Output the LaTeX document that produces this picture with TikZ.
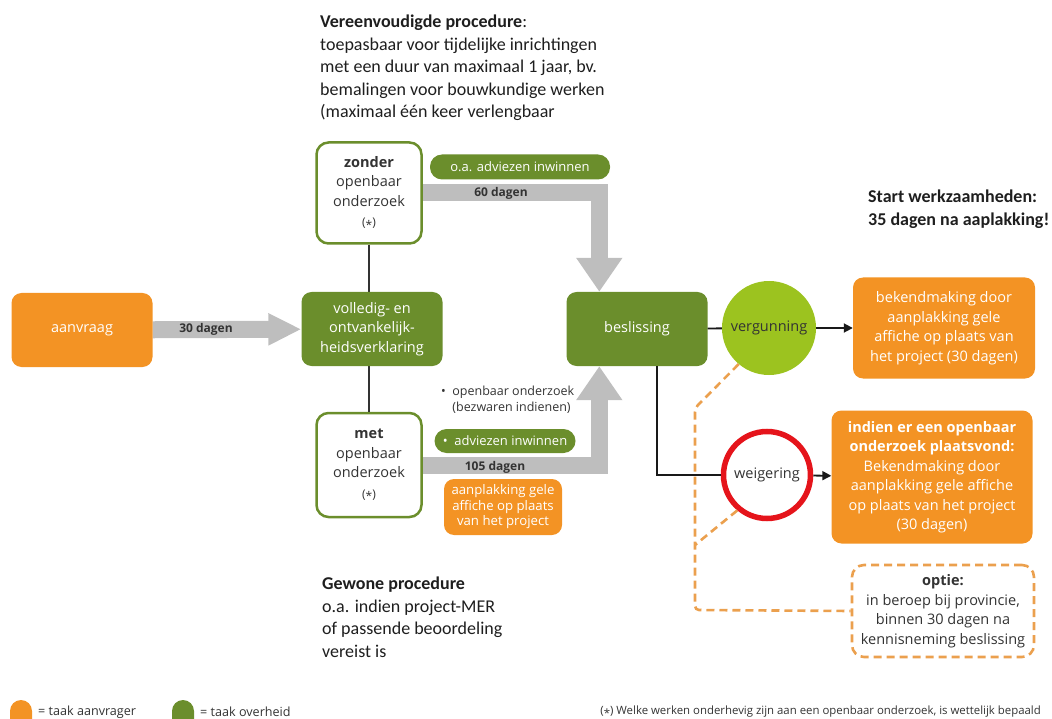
\documentclass[tikz,border=0pt]{standalone}
\usepackage{fontspec}
\setmainfont{Open Sans}
\newfontfamily\notefont{Carlito}
\usetikzlibrary{arrows.meta}

\definecolor{aorange}{HTML}{F39324}
\definecolor{ogreen}{HTML}{6B8E2C}
\definecolor{lightgreen}{HTML}{9CC31F}
\definecolor{flowgray}{HTML}{BEBEBE}
\definecolor{stopred}{HTML}{E5141B}
\definecolor{dashorange}{HTML}{EBA04E}
\definecolor{darktext}{HTML}{333333}
\definecolor{notetext}{HTML}{1E1E1E}

\begin{document}
\begin{tikzpicture}[x=1pt,y=-1pt,
    font=\fontsize{14.5}{19.5}\selectfont,
    flow/.style={draw=flowgray,line width=17pt,-{Triangle[width=44pt,length=34pt]}},
    link/.style={draw=black!90,line width=1.8pt},
    stem/.style={draw=darktext,line width=1.2pt},
    optlink/.style={draw=dashorange,line width=2.6pt,dash pattern=on 8pt off 5pt,rounded corners=4pt},
    note/.style={anchor=north west,align=left,inner sep=0pt,text=notetext,
                 font=\notefont\fontsize{18}{22.5}\selectfont},
    daglabel/.style={text=darktext,font=\fontsize{12}{14}\selectfont\bfseries,inner sep=1pt},
    legend/.style={anchor=west,text=darktext,inner sep=0pt,font=\fontsize{12.6}{14}\selectfont}]
\useasboundingbox (0,0) rectangle (1052,719);

% gray time arrows
\node[minimum width=141pt,minimum height=74pt] (aanvraag) at (82,330) {};
\begin{scope}[every node/.style={draw=ogreen,line width=2.5pt,fill=white,rounded corners=12pt,
              align=center,text=darktext,minimum width=105pt,inner sep=2pt}]
    \node[minimum height=101pt] (zonder) at (369,193) {\textbf{zonder}\\openbaar\\onderzoek\\[1pt]{\fontsize{12}{14}\selectfont(\raisebox{-.45ex}{*})}};
    \node[minimum height=104pt] (met) at (369,465) {\textbf{met}\\openbaar\\onderzoek\\[1pt]{\fontsize{12}{14}\selectfont(\raisebox{-.45ex}{*})}};
\end{scope}
\node[minimum width=141pt,minimum height=74pt] (beslissing) at (637,329) {};
\node[minimum width=141pt,minimum height=74pt] (volledig) at (372,329) {};

\draw[flow,-{Triangle[width=30pt,length=33pt]}] (aanvraag) -- (volledig);
\draw[flow] (zonder.east) -| ([xshift=33pt]beslissing.north west);
\draw[flow] (met.east) -| ([xshift=33pt]beslissing.south west);
\draw[stem] (zonder.south) -- (zonder.south |- volledig.north);
\draw[stem] (met.north) -- (met.north |- volledig.south);

\node[daglabel] (d30) at (206,329) {30 dagen};
\node[daglabel] (d60) at (501,193) {60 dagen};
\node[daglabel] (d105) at (495,467) {105 dagen};

% tasks: orange = aanvrager, green = overheid
\begin{scope}[every node/.style={rounded corners=10pt,text=white,align=center,inner sep=2pt}]
    \node[fill=aorange,minimum width=141pt,minimum height=74pt] at (aanvraag) {aanvraag};
    \node[fill=ogreen,minimum width=141pt,minimum height=74pt] at (volledig) {volledig- en\\ontvankelijk-\\heidsverklaring};
    \node[fill=ogreen,minimum width=141pt,minimum height=74pt] at (beslissing) {beslissing};
    \node[fill=aorange,minimum width=182pt,minimum height=101pt] (bekend) at (944,328)
        {bekendmaking door\\aanplakking gele\\affiche op plaats van\\het project (30 dagen)};
    \node[fill=aorange,minimum width=201pt,minimum height=133pt] (indien) at (932,477)
        {\textbf{indien er een openbaar}\\\textbf{onderzoek plaatsvond:}\\Bekendmaking door\\aanplakking gele affiche\\op plaats van het project\\(30 dagen)};
    \node[fill=aorange,minimum width=118pt,minimum height=56pt,font=\fontsize{13.2}{15.5}\selectfont] (aanplak) at (503,507)
        {aanplakking gele\\affiche op plaats\\van het project};
\end{scope}
\begin{scope}[every node/.style={fill=ogreen,text=white,rounded corners=12pt,inner sep=2pt,
              font=\fontsize{13}{15}\selectfont}]
    \node[minimum width=180pt,minimum height=25pt] (advies1) at (520,167) {o.a. adviezen inwinnen};
    \node[minimum width=141pt,minimum height=24pt] (advies2) at (505,441) {\textbullet\ \ adviezen inwinnen};
\end{scope}
\node[anchor=north west,align=left,inner sep=0pt,text=darktext,font=\fontsize{12.5}{15.5}\selectfont] (bezwaar) at (441,386)
    {\textbullet\ \ openbaar onderzoek\\\phantom{\textbullet\ \ }(bezwaren indienen)};

% outcome
\node[circle,fill=lightgreen,text=darktext,minimum size=94pt,inner sep=0pt] (vergunning) at (769,328) {vergunning};
\node[circle,draw=stopred,line width=5.5pt,fill=white,text=darktext,minimum size=87pt,inner sep=0pt] (weigering) at (767,475) {weigering};
\node[draw=dashorange,line width=2.6pt,dash pattern=on 8pt off 5pt,rounded corners=12pt,align=center,
      text=darktext,minimum width=182pt,minimum height=92pt,inner sep=2pt] (optie) at (943,611)
    {\textbf{optie:}\\in beroep bij provincie,\\binnen 30 dagen na\\kennisneming beslissing};

\draw[link] (beslissing) -- (vergunning);
\draw[link,-{Triangle[width=9pt,length=9pt]}] (vergunning) -- (bekend);
\draw[link] ([xshift=20pt]beslissing.south) |- (weigering);
\draw[link,-{Triangle[width=9pt,length=9pt]}] (weigering) -- (indien);

\coordinate (knik) at (695,408);
\coordinate (hoek) at (695,610);
\coordinate (samen) at (695,545);
\draw[optlink] (vergunning.230) -- (knik) -- (hoek) -- (optie.west);
\draw[optlink] (weigering.230) -- (samen);

% notes
\node[note] (vereenvoudigd) at (320,15) {\textbf{Vereenvoudigde procedure}:\\toepasbaar voor tijdelijke inrichtingen\\met een duur van maximaal 1 jaar, bv.\\bemalingen voor bouwkundige werken\\(maximaal één keer verlengbaar};
\node[note] (gewoon) at (322,577) {\textbf{Gewone procedure}\\o.a. indien project-MER\\of passende beoordeling\\vereist is};
\node[note,font=\notefont\bfseries\fontsize{18}{23}\selectfont] (start) at (868,190) {Start werkzaamheden:\\35 dagen na aaplakking!};

% legend
\fill[aorange] (10,719) -- (10,711) arc[start angle=180,end angle=360,radius=11] -- (32,719) -- cycle;
\fill[ogreen] (172,719) -- (172,711) arc[start angle=180,end angle=360,radius=11] -- (194,719) -- cycle;
\node[legend] (leg-a) at (38,712) {= taak aanvrager};
\node[legend] (leg-o) at (200,712) {= taak overheid};
\node[legend,anchor=east,font=\fontsize{11.4}{13}\selectfont] (voetnoot) at (1041,712)
    {(\raisebox{-.45ex}{*}) Welke werken onderhevig zijn aan een openbaar onderzoek, is wettelijk bepaald};
\end{tikzpicture}
\end{document}
